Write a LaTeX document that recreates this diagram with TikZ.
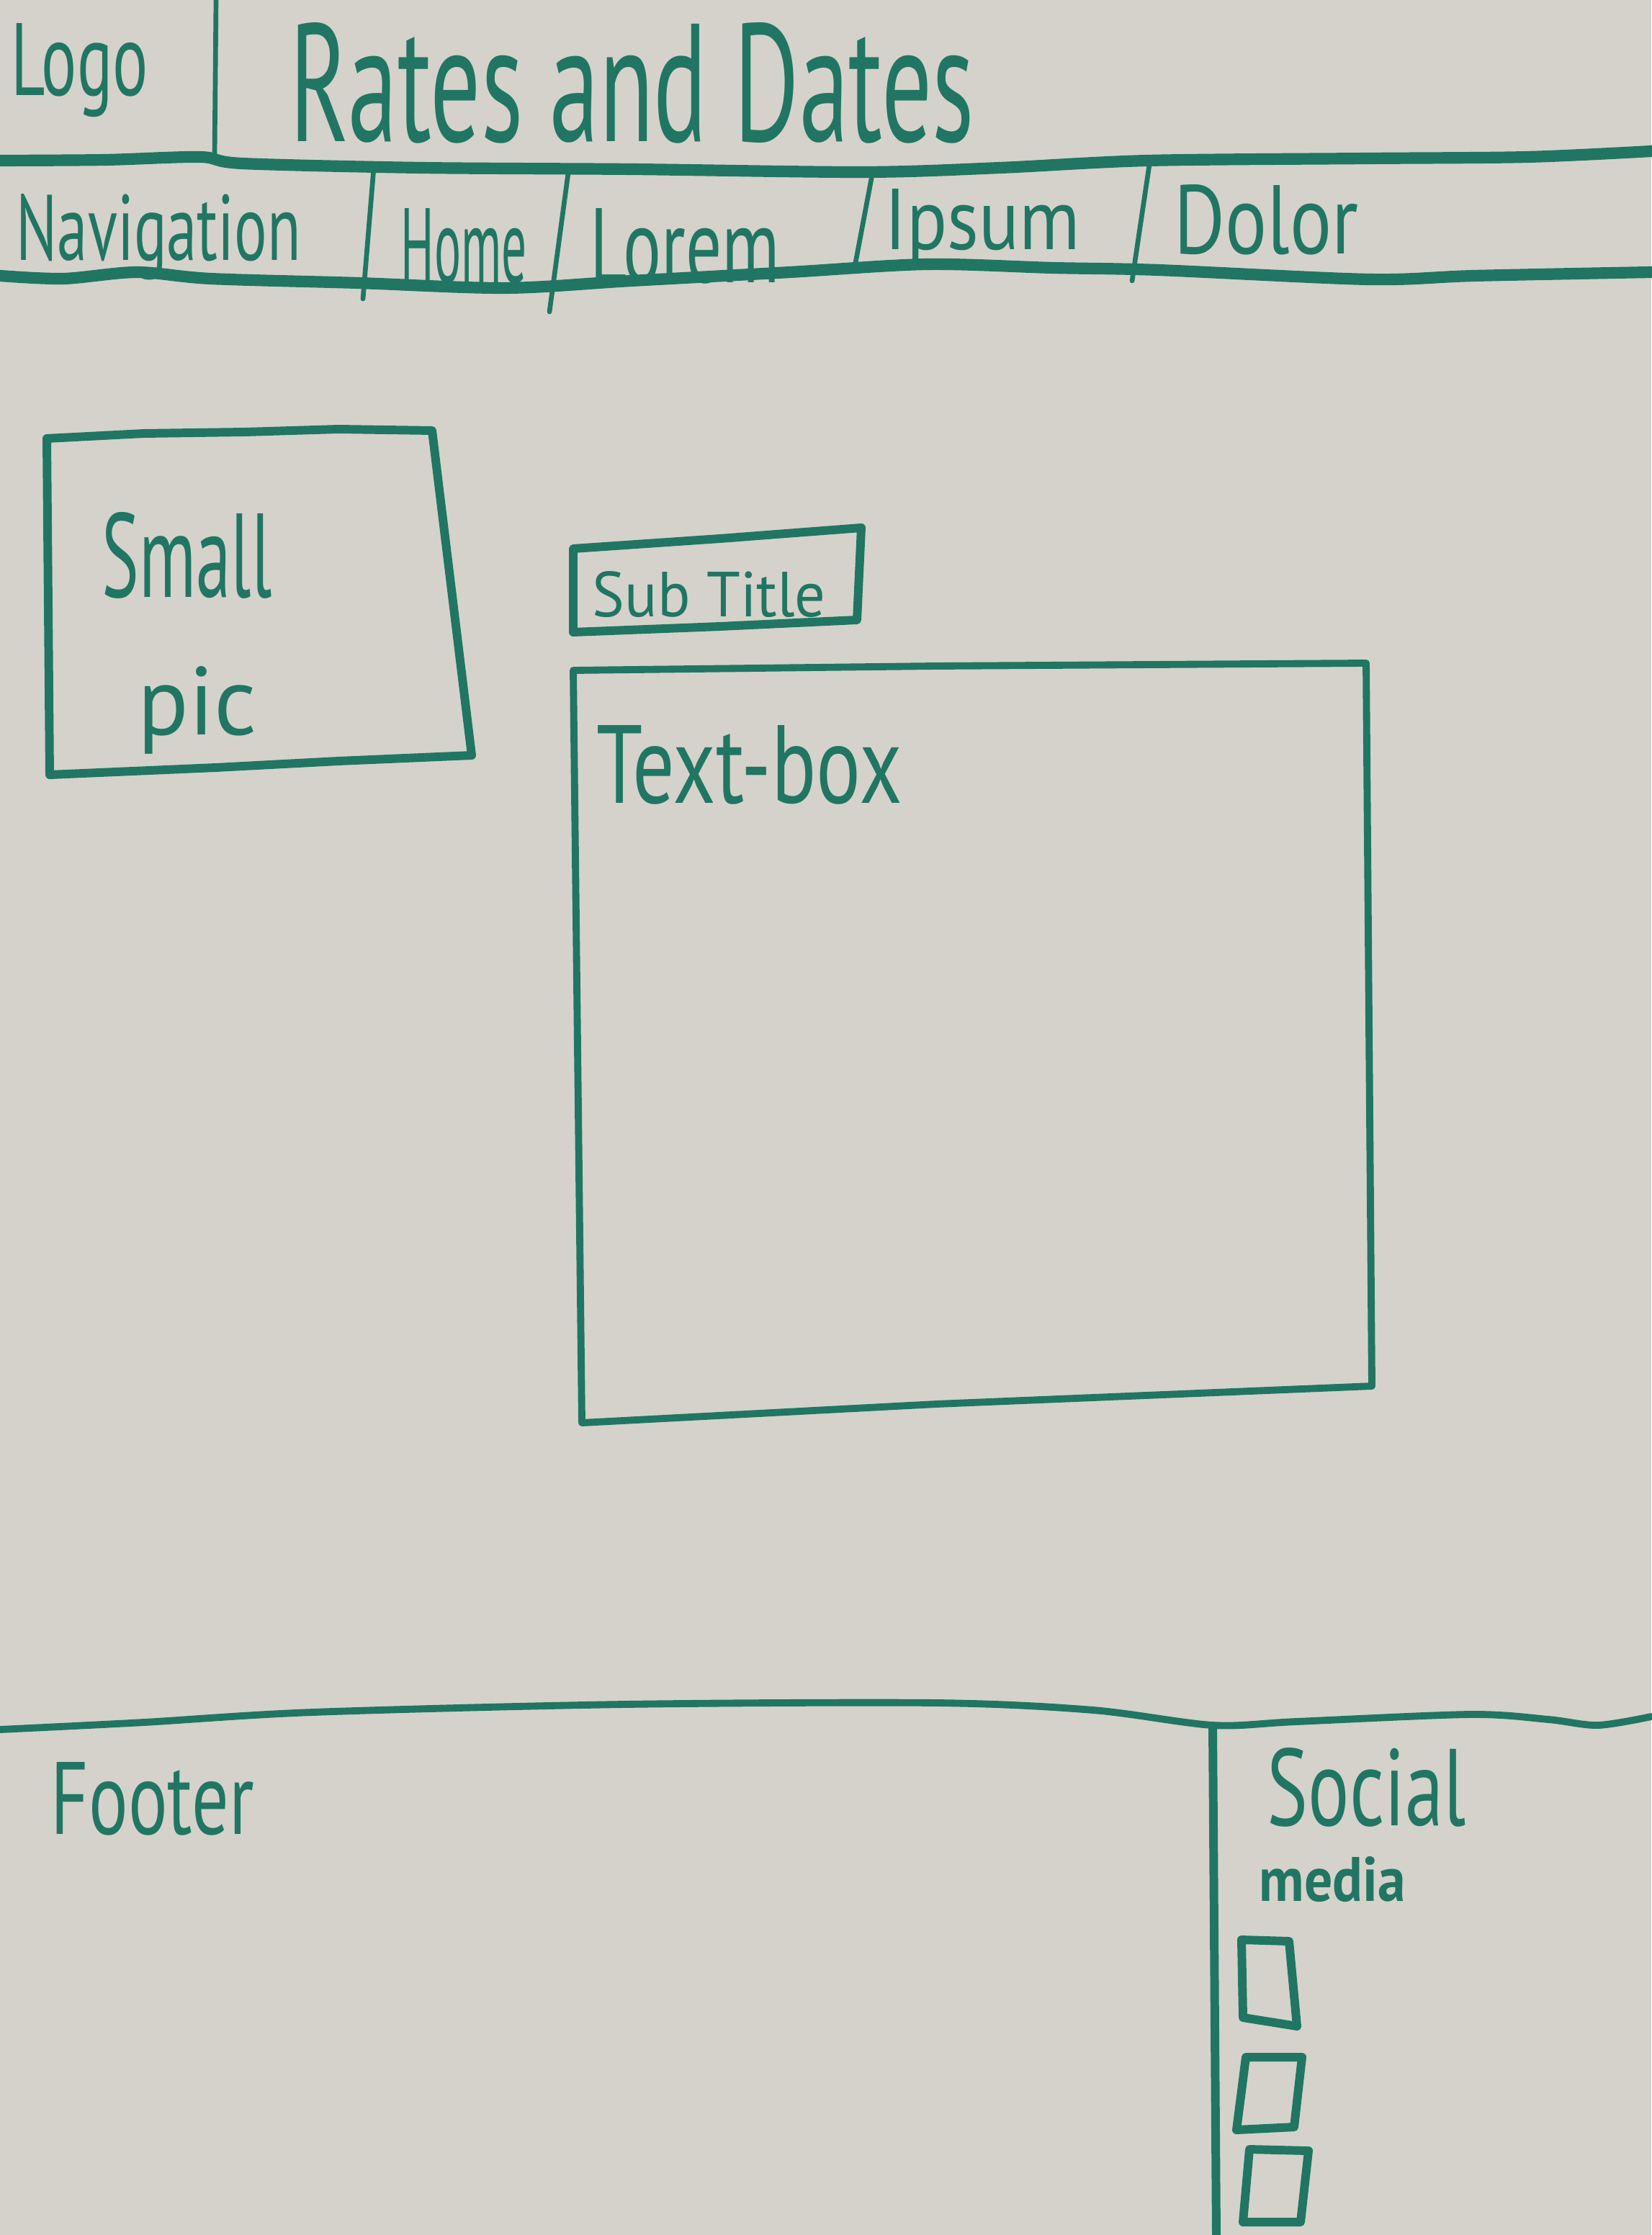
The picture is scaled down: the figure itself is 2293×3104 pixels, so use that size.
\documentclass[tikz,border=0pt]{standalone}
\usepackage{fontspec}
\setmainfont{PT Sans}
\usepackage{graphicx}
% one drawing unit = one pixel of the sheet
\newlength\pxlen
\setlength\pxlen{0.01cm}
\newcommand\handtext[3]{\resizebox{#1\pxlen}{#2\pxlen}{#3}}
\definecolor{paper}{RGB}{213,210,203}
\definecolor{ink}{RGB}{32,118,98}

\begin{document}
\begin{tikzpicture}[x=0.01cm,y=-0.01cm,
  marker/.style={draw=ink, line cap=round, line join=round},
  heavy/.style={marker, line width=4.6pt},
  medium/.style={marker, line width=3.4pt},
  light/.style={marker, line width=2.8pt},
  fine/.style={marker, line width=1.9pt},
  scrawl/.style={text=ink, inner sep=0pt, anchor=base west}]

% sheet of paper
\fill[paper] (0,0) rectangle (2293,3104);
\useasboundingbox (0,0) rectangle (2293,3104);

% ---- header ----
\draw[fine] (300,0) -- (298,217);
\draw[heavy] plot[smooth] coordinates {(0,223) (146,222) (278,218) (336,227) (585,233) (877,235)
  (1199,239) (1389,233) (1594,223) (1901,220) (2121,218) (2293,210)};
\node[scrawl] (logo) at (15,133) {\handtext{190}{100}{Logo}};
\node[scrawl] (title) at (402,197) {\handtext{950}{165}{Rates and Dates}};

% ---- navigation bar ----
\draw[heavy] plot[smooth] coordinates {(0,383) (88,387) (190,378) (292,387) (497,393) (702,400)
  (877,390) (1097,378) (1287,367) (1462,372) (1608,375) (1901,388) (2047,383) (2293,378)};
\draw[fine] (519,233) -- (504,415);
\draw[fine] (790,233) -- (763,433);
\draw[fine] (1211,243) -- (1187,370);
\draw[fine] (1597,222) -- (1572,390);
\node[scrawl] (nav) at (22,362) {\handtext{395}{92}{Navigation}};
\node[scrawl] (home) at (556,393) {\handtext{175}{103}{Home}};
\node[scrawl] (lorem) at (819,393) {\handtext{263}{103}{Lorem}};
\node[scrawl] (ipsum) at (1228,347) {\handtext{271}{84}{Ipsum}};
\node[scrawl] (dolor) at (1630,353) {\handtext{256}{96}{Dolor}};

% ---- small picture ----
\draw[medium] (65,609) -- (200,602) -- (340,600) -- (470,596) -- (600,598)
  -- (655,1049) -- (470,1057) -- (300,1066) -- (69,1076) -- cycle;
\node[scrawl] (small) at (141,829) {\handtext{236}{118}{Small}};
\node[scrawl] (pic) at (191,1020) {\handtext{165}{95}{pic}};

% ---- sub title and text box ----
\draw[medium] (796,762) -- (1000,748) -- (1196,733) -- (1190,861) -- (1000,870) -- (796,878) -- cycle;
\node[scrawl] (subtitle) at (822,856) {\handtext{324}{63}{Sub Title}};
\draw[light] (796,931) -- (1300,925) -- (1897,921) -- (1905,1925) -- (1300,1950) -- (808,1976) -- cycle;
\node[scrawl] (textbox) at (828,1115) {\handtext{424}{108}{Text-box}};

% ---- footer ----
\draw[light] plot[smooth] coordinates {(0,2402) (200,2392) (434,2378) (867,2367) (1301,2365)
  (1518,2375) (1684,2396) (1800,2391) (2042,2381) (2150,2388) (2219,2396) (2293,2384)};
\draw[medium] (1684,2398) -- (1689,3104);
\node[scrawl] (footer) at (70,2547) {\handtext{282}{100}{Footer}};
\node[scrawl] (social) at (1759,2535) {\handtext{276}{108}{Social}};
\node[scrawl] (media) at (1748,2640) {\handtext{203}{62}{\bfseries media}};

% social media icons
\draw[medium] (1724,2694) -- (1790,2696) -- (1801,2814) -- (1726,2802) -- cycle;
\draw[medium] (1730,2857) -- (1808,2857) -- (1797,2954) -- (1717,2958) -- cycle;
\draw[medium] (1735,2985) -- (1817,2987) -- (1806,3086) -- (1726,3086) -- cycle;
\end{tikzpicture}
\end{document}
